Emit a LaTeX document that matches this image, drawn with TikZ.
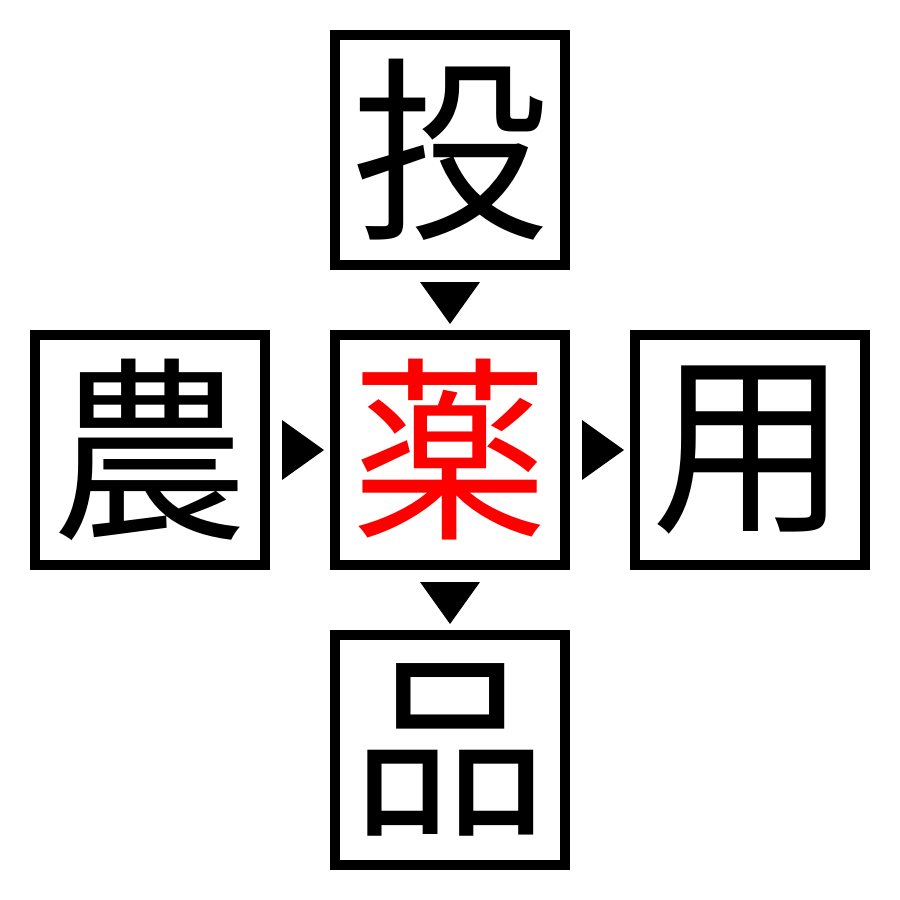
\documentclass[tikz,border=0pt]{standalone}
\usepackage{fontspec}
\newfontfamily\cjk{Noto Sans CJK JP}
\begin{document}
\begin{tikzpicture}[x=0.01cm,y=-0.01cm,
  charbox/.style={draw=black,line width=0.1cm,minimum size=2.3cm,inner sep=0pt,
    font=\cjk\fontsize{56}{56}\selectfont,text=black},
  tri/.style={fill=black,draw=none}]
\useasboundingbox (0,0) rectangle (900,900);
\fill[white] (0,0) rectangle (900,900);
\node[charbox] (top) at (450,150) {投};
\node[charbox,text=red] (mid) at (450,450) {薬};
\node[charbox] (left) at (150,450) {農};
\node[charbox] (right) at (750,450) {用};
\node[charbox] (bot) at (450,750) {品};
% arrowheads
\fill[tri] (420,282) -- (480,282) -- (450,324) -- cycle;
\fill[tri] (420,582) -- (480,582) -- (450,624) -- cycle;
\fill[tri] (282,420) -- (282,480) -- (324,450) -- cycle;
\fill[tri] (582,420) -- (582,480) -- (624,450) -- cycle;
\end{tikzpicture}
\end{document}
